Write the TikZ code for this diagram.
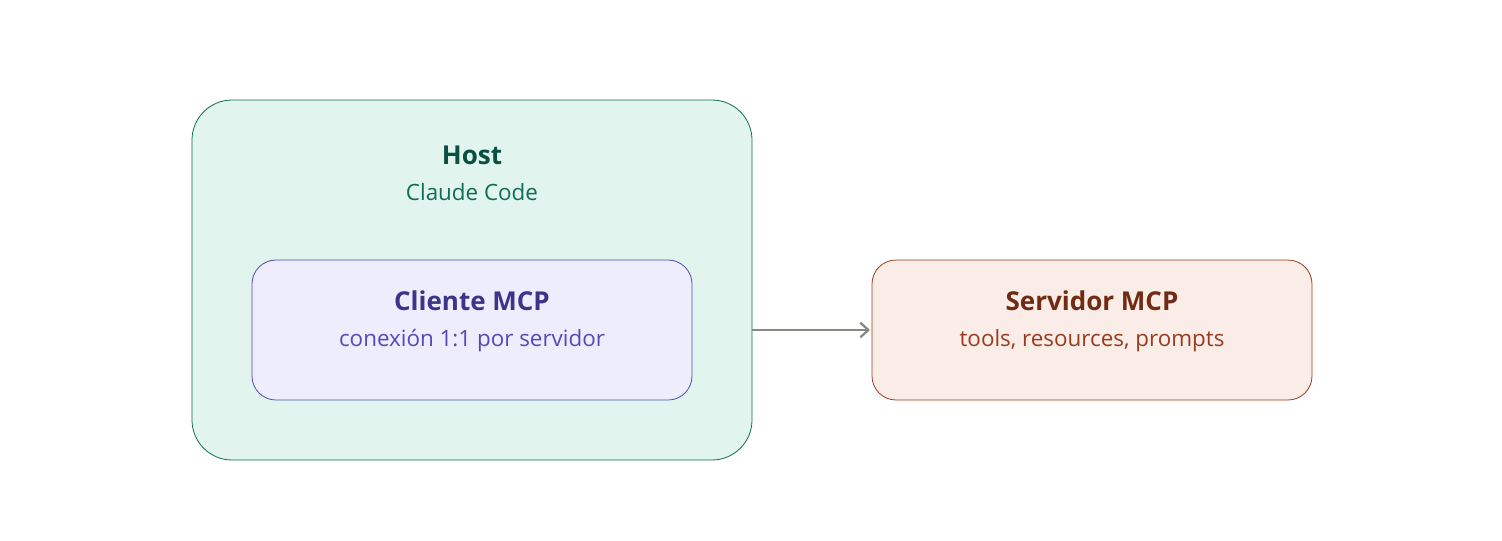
\documentclass[tikz,border=0pt]{standalone}
\usepackage{fontspec}
\setmainfont{Open Sans}
\usetikzlibrary{arrows.meta}
\definecolor{tealfill}{HTML}{E1F5EE}
\definecolor{tealline}{HTML}{0F6E56}
\definecolor{tealdark}{HTML}{085041}
\definecolor{purpfill}{HTML}{EEEDFE}
\definecolor{purpline}{HTML}{534AB7}
\definecolor{purpdark}{HTML}{3C3489}
\definecolor{corfill}{HTML}{FAECE7}
\definecolor{corline}{HTML}{993C1D}
\definecolor{cordark}{HTML}{712B13}
\definecolor{arrowgray}{HTML}{888780}
\tikzset{
  box/.style={draw, line width=0.6pt, inner sep=0pt},
  ttl/.style={font=\fontsize{19.5}{23}\selectfont\bfseries, inner sep=0pt, anchor=base},
  sub/.style={font=\fontsize{16.8}{20}\selectfont, inner sep=0pt, anchor=base},
}
\begin{document}
\begin{tikzpicture}[x=0.75pt,y=-0.75pt]
\useasboundingbox (0,0) rectangle (1502,540);
\fill[white] (0,0) rectangle (1502,540);
% host
\draw[box, fill=tealfill, draw=tealline, rounded corners=30pt] (192,100) rectangle (752,460);
\node[ttl, text=tealdark] (hostt) at (472,164) {Host};
\node[sub, text=tealline] (hosts) at (472,200) {Claude Code};
\coordinate (hostr) at (752,330);
% client
\draw[box, fill=purpfill, draw=purpline, rounded corners=18pt] (252,260) rectangle (692,400);
\node[ttl, text=purpdark] (clit) at (472,310) {Cliente MCP};
\node[sub, text=purpline] (clis) at (472,346) {conexión 1:1 por servidor};
% server
\draw[box, fill=corfill, draw=corline, rounded corners=18pt] (872,260) rectangle (1312,400);
\node[ttl, text=cordark] (sert) at (1092,310) {Servidor MCP};
\node[sub, text=corline] (sers) at (1092,346) {tools, resources, prompts};
\coordinate (serl) at (870,330);
\draw[arrowgray, line width=1.7pt, -{Straight Barb[length=6pt,width=11pt,line width=1.7pt]}] (hostr) -- (serl);
\end{tikzpicture}
\end{document}
